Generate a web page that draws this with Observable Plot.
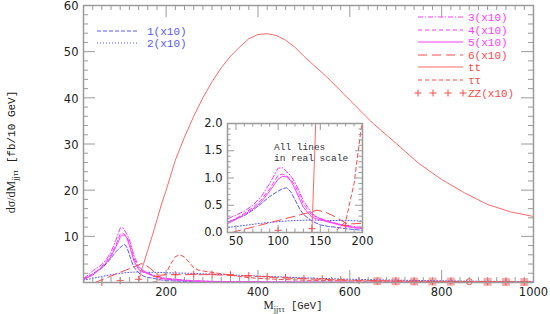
<!DOCTYPE html>
<html><head><meta charset="utf-8">
<script src="https://cdn.jsdelivr.net/npm/d3@7"></script>
<script src="https://cdn.jsdelivr.net/npm/@observablehq/plot@0.6"></script>
<style>
body{margin:0;background:#fff;}
#wrap{position:relative;width:550px;height:314px;overflow:hidden;}
#wrap svg{position:absolute;}
</style></head><body><div id="wrap"></div>
<script>
// ---------------- data ----------------
// Higgs-like peaks, values already multiplied by 10 as in the main panel
const xPeak = [20,30,40,50,60,70,80,90,100,105,110,115,120,125,130,140,150,160,170,180,190,200,250,300,400,500,600,700,800,900,1000];
const s1 = [0.8,1.3,1.9,2.5,3.1,4.1,5.3,6.6,7.6,8.0,8.2,7.5,6.0,4.5,3.3,2.1,1.4,1.1,0.95,0.7,0.55,0.4,0.2,0.12,0.08,0.05,0.04,0.03,0.02,0.02,0.01];
const s3 = [0.9,1.6,2.5,3.2,3.9,5.0,6.6,9.0,11.8,11.9,11.2,10.4,9.2,7.6,5.8,3.5,2.5,2.0,1.6,1.3,1.1,0.9,0.45,0.25,0.12,0.07,0.05,0.04,0.03,0.02,0.02];
const s4 = [0.7,1.2,1.8,2.6,3.5,4.6,6.0,8.0,10.5,10.7,10.4,9.8,8.6,7.0,5.2,3.2,2.6,2.1,1.6,1.2,0.9,0.7,0.35,0.2,0.1,0.06,0.04,0.03,0.02,0.02,0.01];
const s5 = [0.6,1.1,1.6,2.4,3.3,4.3,5.6,7.6,9.8,10.3,10.2,9.5,8.0,6.3,4.6,2.8,2.3,1.9,1.5,1.1,0.9,0.7,0.35,0.2,0.1,0.06,0.04,0.03,0.02,0.02,0.01];
const x2 = [20,40,60,80,100,120,140,160,180,200,250,300,350,400,450,500,600,700,800,900,1000];
const s2 = [0.5,0.9,1.3,1.7,2.0,2.2,2.3,2.2,2.2,2.1,2.0,1.8,1.6,1.4,1.2,1.0,0.7,0.5,0.35,0.25,0.2];
const x6 = [45,60,80,100,120,140,146,155,165,175,182,190,200,250,300,350,400,450,500,600,700,800,900,1000];
const s6 = [0,0.6,1.4,2.2,3.0,3.8,4.1,3.8,3.1,2.2,1.6,1.6,1.7,1.7,1.7,1.5,1.3,1.0,0.8,0.5,0.35,0.25,0.2,0.15];
const xTT = [140,145,150,160,170,180,190,200,220,240,260,280,300,320,340,360,380,400,420,440,460,480,500,550,600,650,700,750,800,850,900,950,1000];
const sTT = [0,2.2,3.8,7.0,10.2,13.6,17.0,20.0,26.5,31.5,36,40,43.5,46.5,49,51,52.8,53.7,53.9,53.5,52.5,51,49,44.5,39.5,34.5,30.2,25.8,22.3,19.4,16.9,15.3,14.3];
const xTau = [170,180,190,200,210,220,230,240,250,260,270,280,300,320,340,360,380,400,450,500,600,700,800,900,1000];
const sTau = [0.05,0.2,0.9,2.1,4.0,5.6,6.0,5.5,4.4,3.2,2.7,2.5,2.2,1.9,1.6,1.3,1.05,0.9,0.65,0.5,0.35,0.25,0.2,0.15,0.1];
const xZZ = [60,100,140,180,220,260,300,340,380,420,460,500,540,580,620,660,700,740,780,820,860,900,940,980];
const sZZ = [0,0.4,0.7,1.3,1.7,1.8,1.8,1.7,1.5,1.3,1.1,0.9,0.8,0.6,0.4,0.3,0.25,0.22,0.2,0.2,0.18,0.15,0.12,0.1];

const mainYTicks = [10,20,30,40,50,60];
const mainXTicks = [200,400,600,800,1000];
const insetYTicks = [0,0.5,1,1.5,2];
const insetXTicks = [50,100,150,200];

const series = [
  {key:"1", label:"1(x10)", xs:xPeak, ys:s1, x10:true},
  {key:"2", label:"2(x10)", xs:x2, ys:s2, x10:true},
  {key:"3", label:"3(x10)", xs:xPeak, ys:s3, x10:true},
  {key:"4", label:"4(x10)", xs:xPeak, ys:s4, x10:true},
  {key:"5", label:"5(x10)", xs:xPeak, ys:s5, x10:true},
  {key:"6", label:"6(x10)", xs:x6, ys:s6, x10:true},
  {key:"tt", label:"tt", xs:xTT, ys:sTT, x10:false},
  {key:"tau", label:"\u03c4\u03c4", xs:xTau, ys:sTau, x10:false}
];
const zzLabel = "ZZ(x10)";

// ---------------- styles ----------------
const BLUE="#5858ff", MAG="#ff3cff", RED="#ff4a4a", TTRED="#ff6a6a", GRAY="#9a9a9a", INK="#222";
const style = {
  "1":{stroke:BLUE, dash:"4,2"},
  "2":{stroke:BLUE, dash:"1,2"},
  "3":{stroke:MAG, dash:"5,2,1,2"},
  "4":{stroke:MAG, dash:"4,3"},
  "5":{stroke:MAG, dash:null},
  "6":{stroke:RED, dash:"9,5"},
  "tt":{stroke:TTRED, dash:null},
  "tau":{stroke:RED, dash:"4,3"}
};
const TICKFONT = "DejaVu Sans, sans-serif";
const MONO = "Liberation Mono, DejaVu Sans Mono, monospace";

const rows = s => s.xs.map((x,i)=>({x, y:s.ys[i]}));
const zzRows = xZZ.map((x,i)=>({x, y:sZZ[i]}));

const W=550, H=314;
const M = {top:5, right:17, bottom:32, left:83};
const FW = W-M.left-M.right, FH = H-M.top-M.bottom;

function frameTicks(xMajor, xMinor, yMajor, yMinor, fw, fh, Lmaj, Lmin, color){
  return [
    Plot.tickY(yMajor, {y:d=>d, insetRight:fw-Lmaj, stroke:color}),
    Plot.tickY(yMinor, {y:d=>d, insetRight:fw-Lmin, stroke:color}),
    Plot.tickY(yMajor, {y:d=>d, insetLeft:fw-Lmaj, stroke:color}),
    Plot.tickY(yMinor, {y:d=>d, insetLeft:fw-Lmin, stroke:color}),
    Plot.tickX(xMajor, {x:d=>d, insetTop:fh-Lmaj, stroke:color}),
    Plot.tickX(xMinor, {x:d=>d, insetTop:fh-Lmin, stroke:color}),
    Plot.tickX(xMajor, {x:d=>d, insetBottom:fh-Lmaj, stroke:color}),
    Plot.tickX(xMinor, {x:d=>d, insetBottom:fh-Lmin, stroke:color})
  ];
}

// ---------------- main panel ----------------
const mainXMinor = d3.range(20,1001,20).filter(d=>d%200);
const mainYMinor = d3.range(0,61,2).filter(d=>d%10);
const mainLines = series.map(s => Plot.line(rows(s), {x:"x", y:"y", stroke:style[s.key].stroke, strokeDasharray:style[s.key].dash, strokeWidth:1}));

const main = Plot.plot({
  width:W, height:H,
  marginTop:M.top, marginRight:M.right, marginBottom:M.bottom, marginLeft:M.left,
  x:{domain:[20,1000], axis:null}, y:{domain:[0,60], axis:null},
  style:{background:"transparent", overflow:"visible"},
  marks:[
    Plot.dot(zzRows.filter(d=>d.x>=660 && d.x!==860), {x:"x", y:"y", symbol:"square", r:4.5, fill:"#ff8c8c", fillOpacity:0.75}),
    ...mainLines,
    Plot.dot(zzRows.filter(d=>d.x!==860), {x:"x", y:"y", symbol:"plus", r:2.4, stroke:RED, strokeWidth:1}),
    Plot.dot(zzRows.filter(d=>d.x===860), {x:"x", y:"y", symbol:"circle", r:3, stroke:RED, fill:"none", strokeWidth:1}),
    ...frameTicks(mainXTicks, mainXMinor, [0,...mainYTicks], mainYMinor, FW, FH, 12, 5, GRAY),
    Plot.frame({stroke:GRAY, strokeWidth:1.5}),
    Plot.text(mainYTicks, {y:d=>d, text:d=>String(d), frameAnchor:"left", dx:-5, dy:1, textAnchor:"end", fontSize:11.5, fontFamily:TICKFONT, fill:INK}),
    Plot.text(mainXTicks, {x:d=>d, text:d=>String(d), frameAnchor:"bottom", dy:5, lineAnchor:"top", fontSize:11.5, fontFamily:TICKFONT, fill:INK})
  ]
});
main.style.left="0px"; main.style.top="0px";

// ---------------- inset panel ----------------
const IM = {top:8, right:13, bottom:23, left:27};
const IW = 175, IH = 140;
const IFW = IW-IM.left-IM.right, IFH = IH-IM.top-IM.bottom;
const insetXMinor = d3.range(40,201,10).filter(d=>d%50);
const insetYMinor = d3.range(0,21).filter(i=>i%5).map(i=>i/10);
const insetLines = series.map(s => Plot.line(rows(s), {x:"x", y:d=>s.x10 ? d.y/10 : d.y, stroke:style[s.key].stroke, strokeDasharray:style[s.key].dash, strokeWidth:1, clip:true}));

const inset = Plot.plot({
  width:IW, height:IH,
  marginTop:IM.top, marginRight:IM.right, marginBottom:IM.bottom, marginLeft:IM.left,
  x:{domain:[40,200], axis:null}, y:{domain:[0,2], axis:null},
  style:{background:"transparent", overflow:"visible"},
  marks:[
    Plot.frame({fill:"white", stroke:"none"}),
    ...insetLines,
    Plot.dot(zzRows, {x:"x", y:d=>d.y/10, symbol:"plus", r:2.4, stroke:RED, strokeWidth:1, clip:true}),
    ...frameTicks(insetXTicks, insetXMinor, insetYTicks, insetYMinor, IFW, IFH, 7, 3.5, GRAY),
    Plot.frame({stroke:GRAY, strokeWidth:1.5}),
    Plot.text(insetYTicks, {y:d=>d, frameAnchor:"left", dx:-5, textAnchor:"end", text:d=>d3.format(".1f")(d), fontSize:11.5, fontFamily:TICKFONT, fill:INK}),
    Plot.text(insetXTicks, {x:d=>d, text:d=>String(d), frameAnchor:"bottom", dy:4, lineAnchor:"top", fontSize:11.5, fontFamily:TICKFONT, fill:INK})
  ]
});
inset.style.left="200px"; inset.style.top="115px";

// ---------------- overlay: legend, annotations, axis titles ----------------
const ov = d3.create("svg").attr("width",W).attr("height",H).style("left","0px").style("top","0px");
const legendLeft = {keys:["1","2"], x0:97, x1:137, tx:147, y0:31, dy:12};
const legendRight = {keys:["3","4","5","6","tt","tau"], x0:418, x1:463, tx:468, y0:17, dy:12.6};
function drawLegend(cfg){
  cfg.keys.forEach((k,i)=>{
    const s = series.find(d=>d.key===k), st = style[k];
    const y = Math.round(cfg.y0 + i*cfg.dy);
    ov.append("line").attr("x1",cfg.x0).attr("x2",cfg.x1).attr("y1",y).attr("y2",y)
      .attr("stroke",st.stroke).attr("stroke-dasharray",st.dash).attr("stroke-width",1.1);
    ov.append("text").attr("x",cfg.tx).attr("y",y+4).attr("fill",st.stroke===TTRED?RED:st.stroke)
      .attr("font-family",MONO).attr("font-size",11).text(s.label);
  });
  return cfg.y0 + cfg.keys.length*cfg.dy;
}
drawLegend(legendLeft);
const zzY = Math.round(drawLegend(legendRight));
d3.range(4).forEach(i=>{
  const cx = Math.round(legendRight.x0 + i*(legendRight.x1-legendRight.x0)/3);
  ov.append("path").attr("d",`M${cx-3.5},${zzY}H${cx+3.5}M${cx},${zzY-3.5}V${zzY+3.5}`).attr("stroke",RED).attr("fill","none");
});
ov.append("text").attr("x",legendRight.tx).attr("y",zzY+4).attr("fill",RED).attr("font-family",MONO).attr("font-size",11).text(zzLabel);

// inset annotation
const ann = ov.append("text").attr("font-family",MONO).attr("font-size",9.5).attr("fill","#333");
ann.append("tspan").attr("x",274).attr("y",150).text("All lines");
ann.append("tspan").attr("x",274).attr("y",161).text("in real scale");

// axis titles
const xt = ov.append("text").attr("x",293).attr("y",308.5).attr("text-anchor","middle").attr("fill",INK).attr("font-size",10.5).attr("font-family",MONO);
xt.append("tspan").attr("font-family","Liberation Serif, serif").attr("font-size",11.5).text("M");
xt.append("tspan").attr("dy",3).attr("font-size",8).attr("font-family","Liberation Serif, serif").text("jj\u03c4\u03c4");
xt.append("tspan").attr("dy",-3).text("  [GeV]");

const yt = ov.append("text").attr("transform","translate(15,152) rotate(-90)").attr("text-anchor","middle").attr("fill",INK).attr("font-size",11).attr("font-family",MONO);
yt.append("tspan").attr("font-family","Liberation Serif, serif").attr("font-size",12).text("d\u03c3/dM");
yt.append("tspan").attr("dy",3).attr("font-size",8).attr("font-family","Liberation Serif, serif").text("jj\u03c4\u03c4");
yt.append("tspan").attr("dy",-3).text(" [fb/10 GeV]");

const wrap = document.getElementById("wrap");
wrap.append(main, inset, ov.node());
</script>
</body></html>
